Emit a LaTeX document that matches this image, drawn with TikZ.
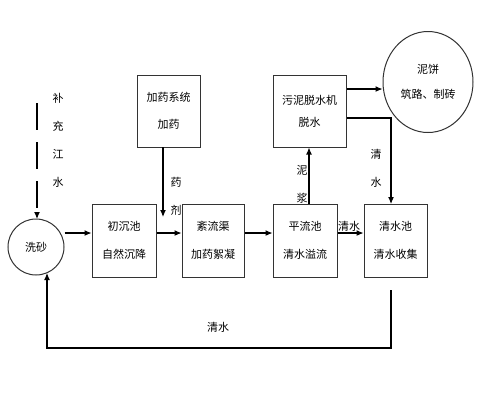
\documentclass[tikz,border=0pt]{standalone}
\usepackage{fontspec}
\newfontfamily\cjk{Noto Sans CJK SC}
\usetikzlibrary{arrows.meta,shapes.geometric}
\begin{document}
\begin{tikzpicture}[x=1pt,y=-1pt,
  line width=1.1pt,
  arr/.style={-{Latex[length=7pt,width=6pt]}},
  boxnode/.style={draw=black!80, line width=1pt, minimum width=#1, minimum height=73pt, inner sep=0pt,
     align=center, font=\cjk\fontsize{11}{28}\selectfont},
  lab/.style={font=\cjk\fontsize{11}{28}\selectfont, inner sep=0pt, align=center},
  vlab/.style={font=\cjk\fontsize{11}{28}\selectfont, inner sep=0pt, align=center}]
\useasboundingbox (0,0) rectangle (500,400);
% nodes
\node[boxnode=64pt] (b1) at (124,240.5) {初沉池\\自然沉降};
\node[boxnode=62pt] (b2) at (213,240.5) {紊流渠\\加药絮凝};
\node[boxnode=64pt] (b3) at (305,240.5) {平流池\\清水溢流};
\node[boxnode=63pt] (b4) at (395.5,240.5) {清水池\\清水收集};
\node[boxnode=63pt, minimum height=72pt, font=\cjk\fontsize{11}{27}\selectfont] (b5) at (168.5,111) {加药系统\\加药};
\node[boxnode=73pt, minimum height=72pt, font=\cjk\fontsize{11}{22}\selectfont] (b6) at (309.5,111) {污泥脱水机\\脱水};
\node[draw=black!80, line width=1pt, circle, minimum size=56pt, inner sep=0pt, lab] (c1) at (36,247) {洗砂};
\node[draw=black!80, line width=1pt, ellipse, minimum width=90pt, minimum height=101pt, inner sep=0pt,
      font=\cjk\fontsize{11}{25}\selectfont, align=center] (c2) at (428,82) {泥饼\\筑路、制砖};
% labels
\node[vlab] (l1) at (58,140) {补\\充\\江\\水};
\node[vlab] (l2) at (176,196) {药\\剂};
\node[vlab] (l3) at (302,184) {泥\\浆};
\node[vlab] (l4) at (376,168) {清\\水};
\node[lab] (l5) at (349,226) {清水};
\node[lab] (l6) at (218,327) {清水};
% coordinates
\coordinate (s0) at (37,103);
\coordinate (s1) at (37,219);
\coordinate (d0) at (163,147);
\coordinate (d1) at (163,217);
\coordinate (r0) at (391,118);
\coordinate (r1) at (391,204);
\coordinate (q0) at (391,290);
\coordinate (q1) at (391,348);
\coordinate (q2) at (47,348);
\coordinate (q3) at (47,273);
% connectors
\draw[arr, dash pattern=on 27pt off 12pt] (s0) -- (s1);
\draw[arr] (c1.east |- 0,233) -- (b1.west |- 0,233);
\draw[arr] (b1.east |- 0,233) -- (b2.west |- 0,233);
\draw[arr] (b2.east |- 0,233) -- (b3.west |- 0,233);
\draw[arr] (b3.east |- 0,233) -- (b4.west |- 0,233);
\draw[arr] (d0) -- (d1);
\draw[arr] (b3.north -| 309,0) -- (b6.south -| 309,0);
\draw[arr] (b6.east |- 0,89) -- (c2.west |- 0,89);
\draw[arr] (b6.east |- r0) -- (r0) -- (r1);
\draw[arr] (q0) -- (q1) -- (q2) -- (q3);
\end{tikzpicture}
\end{document}
